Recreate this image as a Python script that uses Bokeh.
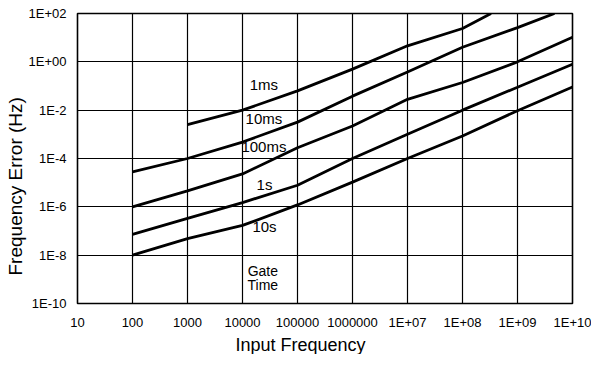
import math
from bokeh.plotting import figure
from bokeh.models import Label, FixedTicker, Title
from bokeh.embed import file_html
from bokeh.resources import INLINE

# ---- data -----------------------------------------------------------
x_ticks = [1e1, 1e2, 1e3, 1e4, 1e5, 1e6, 1e7, 1e8, 1e9, 1e10]
x_tick_labels = ["10", "100", "1000", "10000", "100000", "1000000",
                 "1E+07", "1E+08", "1E+09", "1E+10"]
y_ticks = [1e-10, 1e-8, 1e-6, 1e-4, 1e-2, 1e0, 1e2]
y_tick_labels = ["1E-10", "1E-8", "1E-6", "1E-4", "1E-2", "1E+00", "1E+02"]

gate_1ms_x = [1e3, 1e4, 1e5, 1e6, 1e7, 1e8, 3.3e8]
gate_1ms_y = [2.5e-3, 1.0e-2, 6.3e-2, 0.5, 4.6, 24.0, 100.0]

gate_10ms_x = [1e2, 1e3, 1e4, 1e5, 1e6, 1e7, 1e8, 1e9, 4.7e9]
gate_10ms_y = [2.8e-5, 1.0e-4, 4.8e-4, 3.2e-3, 3.8e-2, 0.38, 4.0, 26.0, 100.0]

gate_100ms_x = [1e2, 1e3, 1e4, 1e5, 1e6, 1e7, 1e8, 1e9, 1e10]
gate_100ms_y = [1.0e-6, 4.6e-6, 2.3e-5, 2.8e-4, 2.2e-3, 2.8e-2, 0.14, 1.0, 10.5]

gate_1s_x = [1e2, 1e3, 1e4, 1e5, 1e6, 1e7, 1e8, 1e9, 1e10]
gate_1s_y = [7.2e-8, 3.3e-7, 1.5e-6, 7.8e-6, 1.0e-4, 1.0e-3, 1.0e-2, 8.9e-2, 0.8]

gate_10s_x = [1e2, 1e3, 1e4, 1e5, 1e6, 1e7, 1e8, 1e9, 1e10]
gate_10s_y = [1.0e-8, 4.8e-8, 1.7e-7, 1.2e-6, 1.05e-5, 1.0e-4, 8.5e-4, 9.5e-3, 9.1e-2]

series = [
    ("1ms", gate_1ms_x, gate_1ms_y),
    ("10ms", gate_10ms_x, gate_10ms_y),
    ("100ms", gate_100ms_x, gate_100ms_y),
    ("1s", gate_1s_x, gate_1s_y),
    ("10s", gate_10s_x, gate_10s_y),
]

# label anchor points (log10 x, log10 y)
curve_label_pos = {
    "1ms": (4.39, -0.95),
    "10ms": (4.39, -2.35),
    "100ms": (4.39, -3.50),
    "1s": (4.40, -5.07),
    "10s": (4.40, -6.81),
}

FONT = "Liberation Sans"

p = figure(width=591, height=354, x_axis_type="log", y_axis_type="log",
           x_range=(1e1, 1e10), y_range=(1e-10, 1e2),
           output_backend="svg", toolbar_location=None,
           min_border_left=77, min_border_right=19,
           min_border_top=13, min_border_bottom=47)

p.background_fill_color = "white"
p.border_fill_color = "white"
p.outline_line_color = "black"
p.outline_line_width = 1.6

for ax in (p.xaxis[0], p.yaxis[0]):
    ax.axis_line_color = None
    ax.major_tick_line_color = None
    ax.minor_tick_line_color = None
    ax.major_label_text_font = FONT
    ax.major_label_text_color = "black"
    ax.major_label_text_font_size = "13px"

p.xaxis.ticker = FixedTicker(ticks=x_ticks)
p.yaxis.ticker = FixedTicker(ticks=y_ticks)
p.xaxis.major_label_overrides = {t: l for t, l in zip(x_ticks, x_tick_labels)}
p.yaxis.major_label_overrides = {t: l for t, l in zip(y_ticks, y_tick_labels)}
p.xaxis.major_label_standoff = 5
p.yaxis.major_label_standoff = 5

p.xgrid.ticker = FixedTicker(ticks=x_ticks)
p.ygrid.ticker = FixedTicker(ticks=y_ticks)
for g in (p.xgrid[0], p.ygrid[0]):
    g.grid_line_color = "black"
    g.grid_line_width = 1.2
    g.grid_line_alpha = 1.0
    g.minor_grid_line_color = None

for name, xs, ys in series:
    p.line(xs, ys, line_color="black", line_width=2.8)
    lx, ly = curve_label_pos[name]
    p.add_layout(Label(x=10 ** lx, y=10 ** ly, text=name, text_font=FONT,
                       text_font_size="15px", text_align="center",
                       text_baseline="middle", text_color="black"))

p.add_layout(Label(x=10 ** 4.37, y=10 ** -8.67, text="Gate", text_font=FONT,
                   text_font_size="14px", text_align="center",
                   text_baseline="middle", text_color="black"))
p.add_layout(Label(x=10 ** 4.37, y=10 ** -9.25, text="Time", text_font=FONT,
                   text_font_size="14px", text_align="center",
                   text_baseline="middle", text_color="black"))

# axis titles
p.add_layout(Title(text="Input Frequency", align="left", offset=158,
                   text_font=FONT, text_font_size="18px", text_color="black",
                   text_font_style="normal", standoff=0), "below")
p.add_layout(Title(text="Frequency Error (Hz)", align="left", offset=28,
                   text_font=FONT, text_font_size="19px", text_color="black",
                   text_font_style="normal", standoff=0), "left")

open("out.html", "w").write(file_html(p, INLINE))
